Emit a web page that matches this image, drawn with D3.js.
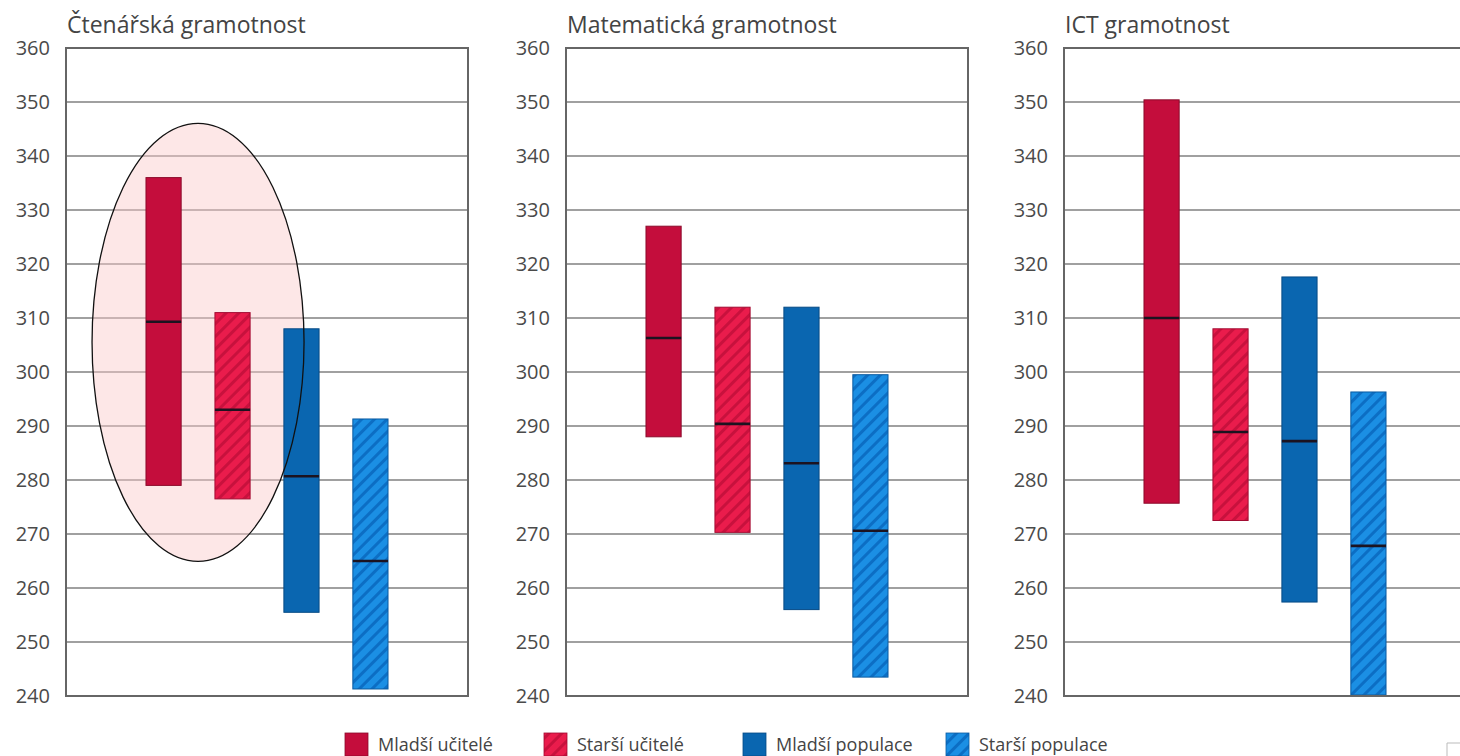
<!DOCTYPE html>
<html>
<head>
<meta charset="utf-8">
<script src="https://cdn.jsdelivr.net/npm/d3@7"></script>
<style>
  body { margin: 0; background: #fff; }
  svg { display: block; font-family: "Open Sans", sans-serif; }
</style>
</head>
<body>
<svg id="chart" width="1460" height="756"></svg>
<script>
// ── data ──
const panels  = ["Čtenářská gramotnost", "Matematická gramotnost", "ICT gramotnost"];
const groups  = ["Mladší učitelé", "Starší učitelé", "Mladší populace", "Starší populace"];
const lowVals  = [[279, 276.5, 255.5, 241.3], [288, 270.3, 256, 243.5], [275.7, 272.5, 257.4, 240.2]];
const highVals = [[336, 311, 308, 291.3], [327, 312, 312, 299.5], [350.4, 308, 317.6, 296.3]];
const midVals  = [[309.3, 293, 280.7, 265], [306.3, 290.4, 283.1, 270.6], [310, 288.9, 287.2, 267.8]];
const yTicks   = [240, 250, 260, 270, 280, 290, 300, 310, 320, 330, 340, 350, 360];

// ── look ──
const FILL = ["#c40d3c", "url(#hatchRed)", "#0a66b0", "url(#hatchBlue)"];
const EDGE = ["#8c0a2b", "#a30c32", "#064a85", "#0a5aa0"];

const svg = d3.select("#chart");
const defs = svg.append("defs");

function hatch(id, base, stripe) {
    const p = defs.append("pattern").attr("id", id)
        .attr("patternUnits", "userSpaceOnUse")
        .attr("width", 9).attr("height", 9)
        .attr("patternTransform", "rotate(45)");
    p.append("rect").attr("width", 9).attr("height", 9).attr("fill", base);
    p.append("rect").attr("width", 3).attr("height", 9).attr("fill", stripe);
}
hatch("hatchRed", "#ea1c4c", "#c8113d");
hatch("hatchBlue", "#1b8fe4", "#0c6ec4");

const panelLeft = [66, 566, 1064];
const panelW = 402;
const plotTop = 48, plotBottom = 696;

const y = d3.scaleLinear().domain([240, 360]).range([plotBottom, plotTop]);
const x = d3.scaleBand().domain(groups).range([0, panelW])
    .paddingInner(0.49).paddingOuter(1.16);

panels.forEach((title, pi) => {
    const g = svg.append("g").attr("transform", `translate(${panelLeft[pi]},0)`);

    // title
    g.append("text").attr("x", 1).attr("y", 33)
        .attr("fill", "#444").attr("font-size", "23px")
        .text(title);

    // grid lines
    g.selectAll(".grid").data(yTicks.slice(1, -1)).join("line")
        .attr("x1", 0).attr("x2", panelW)
        .attr("y1", d => y(d)).attr("y2", d => y(d))
        .attr("stroke", "#808080").attr("stroke-width", 1.5);

    // y axis labels
    const ax = g.append("g").call(d3.axisLeft(y).tickValues(yTicks).tickSize(0).tickPadding(16));
    ax.select(".domain").remove();
    ax.selectAll("text").attr("fill", "#4a4a4a").attr("font-size", "20px")
        .attr("font-family", "Open Sans, sans-serif");

    // ellipse highlight (first panel only) – fill under bars
    let ell = null;
    if (pi === 0) {
        ell = {
            cx: (x(groups[0]) + x(groups[1]) + x.bandwidth()) / 2,
            cy: y(305.5), rx: 106, ry: 219
        };
        g.append("ellipse").attr("cx", ell.cx).attr("cy", ell.cy)
            .attr("rx", ell.rx).attr("ry", ell.ry)
            .attr("fill", "#fbcaca").attr("fill-opacity", 0.45);
    }

    // bars
    groups.forEach((grp, gi) => {
        const lo = lowVals[pi][gi], hi = highVals[pi][gi], md = midVals[pi][gi];
        g.append("rect")
            .attr("x", x(grp)).attr("y", y(hi))
            .attr("width", x.bandwidth()).attr("height", y(lo) - y(hi))
            .attr("fill", FILL[gi]).attr("stroke", EDGE[gi]).attr("stroke-width", 1);
        g.append("line")
            .attr("x1", x(grp)).attr("x2", x(grp) + x.bandwidth())
            .attr("y1", y(md)).attr("y2", y(md))
            .attr("stroke", "#1c1320").attr("stroke-width", 2.6);
    });

    // frame
    g.append("rect").attr("x", 0).attr("y", plotTop)
        .attr("width", panelW).attr("height", plotBottom - plotTop)
        .attr("fill", "none").attr("stroke", "#666").attr("stroke-width", 2);

    if (ell) {
        g.append("ellipse").attr("cx", ell.cx).attr("cy", ell.cy)
            .attr("rx", ell.rx).attr("ry", ell.ry)
            .attr("fill", "none").attr("stroke", "#111").attr("stroke-width", 1.3);
    }
});

// legend
const legendX = [345, 544, 743, 946];
const lg = svg.append("g").attr("transform", "translate(0,733)");
groups.forEach((grp, gi) => {
    lg.append("rect").attr("x", legendX[gi]).attr("y", 0)
        .attr("width", 23).attr("height", 23)
        .attr("fill", FILL[gi]).attr("stroke", EDGE[gi]).attr("stroke-width", 0.8);
    lg.append("text").attr("x", legendX[gi] + 33).attr("y", 18)
        .attr("fill", "#444").attr("font-size", "18px")
        .text(grp);
});

// small corner mark at bottom right
svg.append("path").attr("d", "M1447,756 V743 H1460")
    .attr("fill", "none").attr("stroke", "#bbb").attr("stroke-width", 1);
</script>
</body>
</html>
